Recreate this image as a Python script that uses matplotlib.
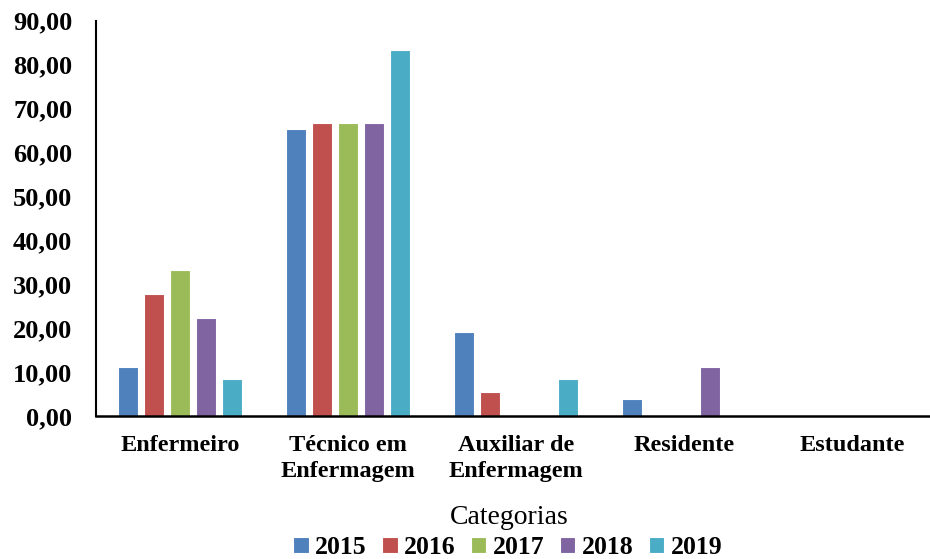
import matplotlib.pyplot as plt
import numpy as np

categorias = ['Enfermeiro', 'Técnico em\nEnfermagem', 'Auxiliar de\nEnfermagem', 'Residente', 'Estudante']
anos = ['2015', '2016', '2017', '2018', '2019']
valores = {
    '2015': [11.11, 65.38, 19.23, 3.85, 0.0],
    '2016': [27.78, 66.67, 5.56, 0.0, 0.0],
    '2017': [33.33, 66.67, 0.0, 0.0, 0.0],
    '2018': [22.22, 66.67, 0.0, 11.11, 0.0],
    '2019': [8.33, 83.33, 8.33, 0.0, 0.0],
}
cores = ['#4F81BD', '#C0504D', '#9BBB59', '#8064A2', '#4BACC6']

plt.rcParams['font.family'] = ['Liberation Serif', 'DejaVu Serif']

fig = plt.figure(figsize=(9.3, 5.59), dpi=100)
# axis line runs past the right edge, like the original
ax = fig.add_axes([0.1032, 0.2558, 0.9032, 0.7072])

x = np.arange(len(categorias))
passo = 0.155
larg = 0.12
for i, ano in enumerate(anos):
    ax.bar(x + (i - 2) * passo, valores[ano], width=larg, color=cores[i],
           edgecolor='white', linewidth=0.8, label=ano)

ax.set_xlim(-0.5, len(categorias) - 0.5)
ax.set_ylim(0, 90)
ax.set_yticks(np.arange(0, 91, 10))
ax.set_yticklabels([f'{v:.2f}'.replace('.', ',') for v in np.arange(0, 91, 10)],
                   fontsize=19, fontweight='bold')
ax.set_xticks(x)
ax.set_xticklabels(categorias, fontsize=17.5, fontweight='bold', linespacing=1.3)
ax.tick_params(axis='y', length=0, pad=17)
ax.tick_params(axis='x', length=0, pad=14)

for s in ['top', 'right']:
    ax.spines[s].set_visible(False)
ax.spines['left'].set_linewidth(1.5)
ax.spines['bottom'].set_linewidth(1.8)

fig.text(0.548, 0.075, 'Categorias', fontsize=20, ha='center', va='center')
fig.legend(loc='center', bbox_to_anchor=(0.546, 0.02), ncol=5, frameon=False,
           prop={'size': 18.5, 'weight': 'bold'}, handlelength=0.6, handleheight=0.6,
           handletextpad=0.25, columnspacing=0.6, borderpad=0)

fig.savefig('out.png', dpi=100)
